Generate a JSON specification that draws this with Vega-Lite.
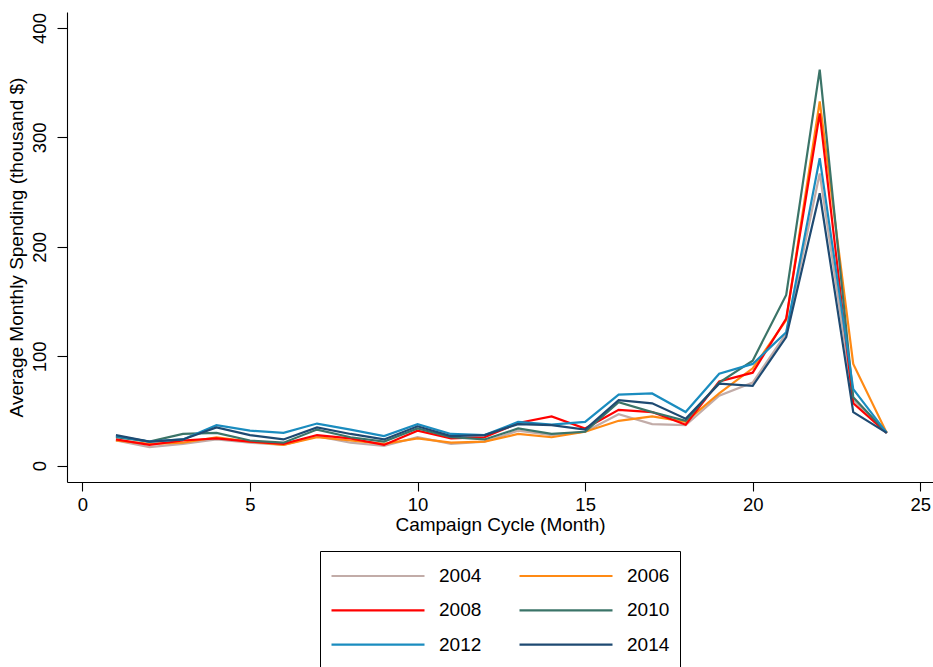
{
  "$schema": "https://vega.github.io/schema/vega-lite/v6.json",
  "width": 866,
  "height": 470,
  "autosize": {"type": "none"},
  "padding": {"left": 67, "top": 12, "right": 0, "bottom": 185},
  "background": "white",
  "config": {
    "view": {"stroke": null},
    "font": "Liberation Sans",
    "axis": {
      "grid": false,
      "domainColor": "#000000",
      "domainWidth": 1.1,
      "tickColor": "#000000",
      "tickWidth": 1.1,
      "labelColor": "#000000",
      "titleColor": "#000000",
      "labelFont": "Liberation Sans",
      "titleFont": "Liberation Sans",
      "labelFontSize": 18.5,
      "titleFontSize": 19,
      "titleFontWeight": "normal"
    },
    "legend": {
      "labelFont": "Liberation Sans",
      "labelFontSize": 19,
      "labelColor": "#000000"
    }
  },
  "data": {
    "values": [
      {"month": 1, "year": "2004", "spend": 23}, {"month": 1, "year": "2006", "spend": 23}, {"month": 1, "year": "2008", "spend": 24}, {"month": 1, "year": "2010", "spend": 26}, {"month": 1, "year": "2012", "spend": 27}, {"month": 1, "year": "2014", "spend": 28},
      {"month": 2, "year": "2004", "spend": 17}, {"month": 2, "year": "2006", "spend": 20}, {"month": 2, "year": "2008", "spend": 19}, {"month": 2, "year": "2010", "spend": 22}, {"month": 2, "year": "2012", "spend": 22}, {"month": 2, "year": "2014", "spend": 22},
      {"month": 3, "year": "2004", "spend": 20}, {"month": 3, "year": "2006", "spend": 21}, {"month": 3, "year": "2008", "spend": 23}, {"month": 3, "year": "2010", "spend": 29}, {"month": 3, "year": "2012", "spend": 24}, {"month": 3, "year": "2014", "spend": 24},
      {"month": 4, "year": "2004", "spend": 24}, {"month": 4, "year": "2006", "spend": 26}, {"month": 4, "year": "2008", "spend": 25}, {"month": 4, "year": "2010", "spend": 30}, {"month": 4, "year": "2012", "spend": 37}, {"month": 4, "year": "2014", "spend": 35},
      {"month": 5, "year": "2004", "spend": 21}, {"month": 5, "year": "2006", "spend": 22}, {"month": 5, "year": "2008", "spend": 22}, {"month": 5, "year": "2010", "spend": 23}, {"month": 5, "year": "2012", "spend": 32}, {"month": 5, "year": "2014", "spend": 28},
      {"month": 6, "year": "2004", "spend": 19}, {"month": 6, "year": "2006", "spend": 19}, {"month": 6, "year": "2008", "spend": 20}, {"month": 6, "year": "2010", "spend": 21}, {"month": 6, "year": "2012", "spend": 30}, {"month": 6, "year": "2014", "spend": 24},
      {"month": 7, "year": "2004", "spend": 27}, {"month": 7, "year": "2006", "spend": 26}, {"month": 7, "year": "2008", "spend": 28}, {"month": 7, "year": "2010", "spend": 33}, {"month": 7, "year": "2012", "spend": 38.5}, {"month": 7, "year": "2014", "spend": 35},
      {"month": 8, "year": "2004", "spend": 21}, {"month": 8, "year": "2006", "spend": 23}, {"month": 8, "year": "2008", "spend": 25}, {"month": 8, "year": "2010", "spend": 26}, {"month": 8, "year": "2012", "spend": 33}, {"month": 8, "year": "2014", "spend": 29},
      {"month": 9, "year": "2004", "spend": 18}, {"month": 9, "year": "2006", "spend": 20}, {"month": 9, "year": "2008", "spend": 19}, {"month": 9, "year": "2010", "spend": 22}, {"month": 9, "year": "2012", "spend": 27}, {"month": 9, "year": "2014", "spend": 24},
      {"month": 10, "year": "2004", "spend": 26}, {"month": 10, "year": "2006", "spend": 25}, {"month": 10, "year": "2008", "spend": 32}, {"month": 10, "year": "2010", "spend": 34}, {"month": 10, "year": "2012", "spend": 38}, {"month": 10, "year": "2014", "spend": 36},
      {"month": 11, "year": "2004", "spend": 20}, {"month": 11, "year": "2006", "spend": 21}, {"month": 11, "year": "2008", "spend": 25}, {"month": 11, "year": "2010", "spend": 26}, {"month": 11, "year": "2012", "spend": 29}, {"month": 11, "year": "2014", "spend": 27},
      {"month": 12, "year": "2004", "spend": 22}, {"month": 12, "year": "2006", "spend": 22}, {"month": 12, "year": "2008", "spend": 26}, {"month": 12, "year": "2010", "spend": 24}, {"month": 12, "year": "2012", "spend": 28}, {"month": 12, "year": "2014", "spend": 28},
      {"month": 13, "year": "2004", "spend": 32}, {"month": 13, "year": "2006", "spend": 29}, {"month": 13, "year": "2008", "spend": 39}, {"month": 13, "year": "2010", "spend": 34}, {"month": 13, "year": "2012", "spend": 40}, {"month": 13, "year": "2014", "spend": 38},
      {"month": 14, "year": "2004", "spend": 28}, {"month": 14, "year": "2006", "spend": 26}, {"month": 14, "year": "2008", "spend": 45}, {"month": 14, "year": "2010", "spend": 29}, {"month": 14, "year": "2012", "spend": 37.5}, {"month": 14, "year": "2014", "spend": 37},
      {"month": 15, "year": "2004", "spend": 31}, {"month": 15, "year": "2006", "spend": 31}, {"month": 15, "year": "2008", "spend": 34}, {"month": 15, "year": "2010", "spend": 31}, {"month": 15, "year": "2012", "spend": 40}, {"month": 15, "year": "2014", "spend": 33},
      {"month": 16, "year": "2004", "spend": 47}, {"month": 16, "year": "2006", "spend": 41}, {"month": 16, "year": "2008", "spend": 51}, {"month": 16, "year": "2010", "spend": 58}, {"month": 16, "year": "2012", "spend": 65}, {"month": 16, "year": "2014", "spend": 60},
      {"month": 17, "year": "2004", "spend": 38}, {"month": 17, "year": "2006", "spend": 45}, {"month": 17, "year": "2008", "spend": 49}, {"month": 17, "year": "2010", "spend": 49}, {"month": 17, "year": "2012", "spend": 66}, {"month": 17, "year": "2014", "spend": 57},
      {"month": 18, "year": "2004", "spend": 37}, {"month": 18, "year": "2006", "spend": 40}, {"month": 18, "year": "2008", "spend": 37.5}, {"month": 18, "year": "2010", "spend": 41}, {"month": 18, "year": "2012", "spend": 49}, {"month": 18, "year": "2014", "spend": 43},
      {"month": 19, "year": "2004", "spend": 64}, {"month": 19, "year": "2006", "spend": 66}, {"month": 19, "year": "2008", "spend": 77}, {"month": 19, "year": "2010", "spend": 76}, {"month": 19, "year": "2012", "spend": 84}, {"month": 19, "year": "2014", "spend": 75},
      {"month": 20, "year": "2004", "spend": 76}, {"month": 20, "year": "2006", "spend": 89}, {"month": 20, "year": "2008", "spend": 85}, {"month": 20, "year": "2010", "spend": 96}, {"month": 20, "year": "2012", "spend": 93}, {"month": 20, "year": "2014", "spend": 73},
      {"month": 21, "year": "2004", "spend": 121}, {"month": 21, "year": "2006", "spend": 133}, {"month": 21, "year": "2008", "spend": 134.5}, {"month": 21, "year": "2010", "spend": 156}, {"month": 21, "year": "2012", "spend": 122}, {"month": 21, "year": "2014", "spend": 117.5},
      {"month": 22, "year": "2004", "spend": 267}, {"month": 22, "year": "2006", "spend": 333}, {"month": 22, "year": "2008", "spend": 322}, {"month": 22, "year": "2010", "spend": 362}, {"month": 22, "year": "2012", "spend": 281}, {"month": 22, "year": "2014", "spend": 249},
      {"month": 23, "year": "2004", "spend": 60}, {"month": 23, "year": "2006", "spend": 93}, {"month": 23, "year": "2008", "spend": 57}, {"month": 23, "year": "2010", "spend": 62.5}, {"month": 23, "year": "2012", "spend": 70}, {"month": 23, "year": "2014", "spend": 49},
      {"month": 24, "year": "2004", "spend": 30}, {"month": 24, "year": "2006", "spend": 30}, {"month": 24, "year": "2008", "spend": 30}, {"month": 24, "year": "2010", "spend": 30}, {"month": 24, "year": "2012", "spend": 30}, {"month": 24, "year": "2014", "spend": 30}
    ]
  },
  "mark": {"type": "line", "strokeWidth": 2.2, "strokeJoin": "miter", "clip": false},
  "encoding": {
    "x": {
      "field": "month",
      "type": "quantitative",
      "scale": {"domain": [-0.46, 25.38], "nice": false, "zero": false},
      "axis": {
        "title": "Campaign Cycle (Month)",
        "values": [0, 5, 10, 15, 20, 25],
        "tickSize": 9,
        "labelPadding": 4,
        "titlePadding": 2,
        "labelFlush": false
      }
    },
    "y": {
      "field": "spend",
      "type": "quantitative",
      "scale": {"domain": [-14.9, 414.6], "nice": false, "zero": false},
      "axis": {
        "title": "Average Monthly Spending (thousand $)",
        "values": [0, 100, 200, 300, 400],
        "tickSize": 10,
        "labelAngle": -90,
        "labelPadding": 8,
        "titlePadding": 4,
        "labelFlush": false
      }
    },
    "color": {
      "field": "year",
      "type": "nominal",
      "sort": ["2004", "2006", "2008", "2010", "2012", "2014"],
      "scale": {
        "domain": ["2004", "2006", "2008", "2010", "2012", "2014"],
        "range": ["#c2aca8", "#ff8a14", "#ff0000", "#3b7468", "#1a8cbf", "#1e4a72"]
      },
      "legend": {
        "title": null,
        "orient": "none",
        "legendX": 253,
        "legendY": 539,
        "direction": "horizontal",
        "columns": 2,
        "symbolType": "stroke",
        "symbolSize": 8649,
        "symbolStrokeWidth": 2.2,
        "labelOffset": 13,
        "clipHeight": 30,
        "rowPadding": 4.3,
        "columnPadding": 36,
        "padding": 10,
        "strokeColor": "#000000",
        "fillColor": "#ffffff"
      }
    },
    "order": {"field": "month", "type": "quantitative"}
  }
}
